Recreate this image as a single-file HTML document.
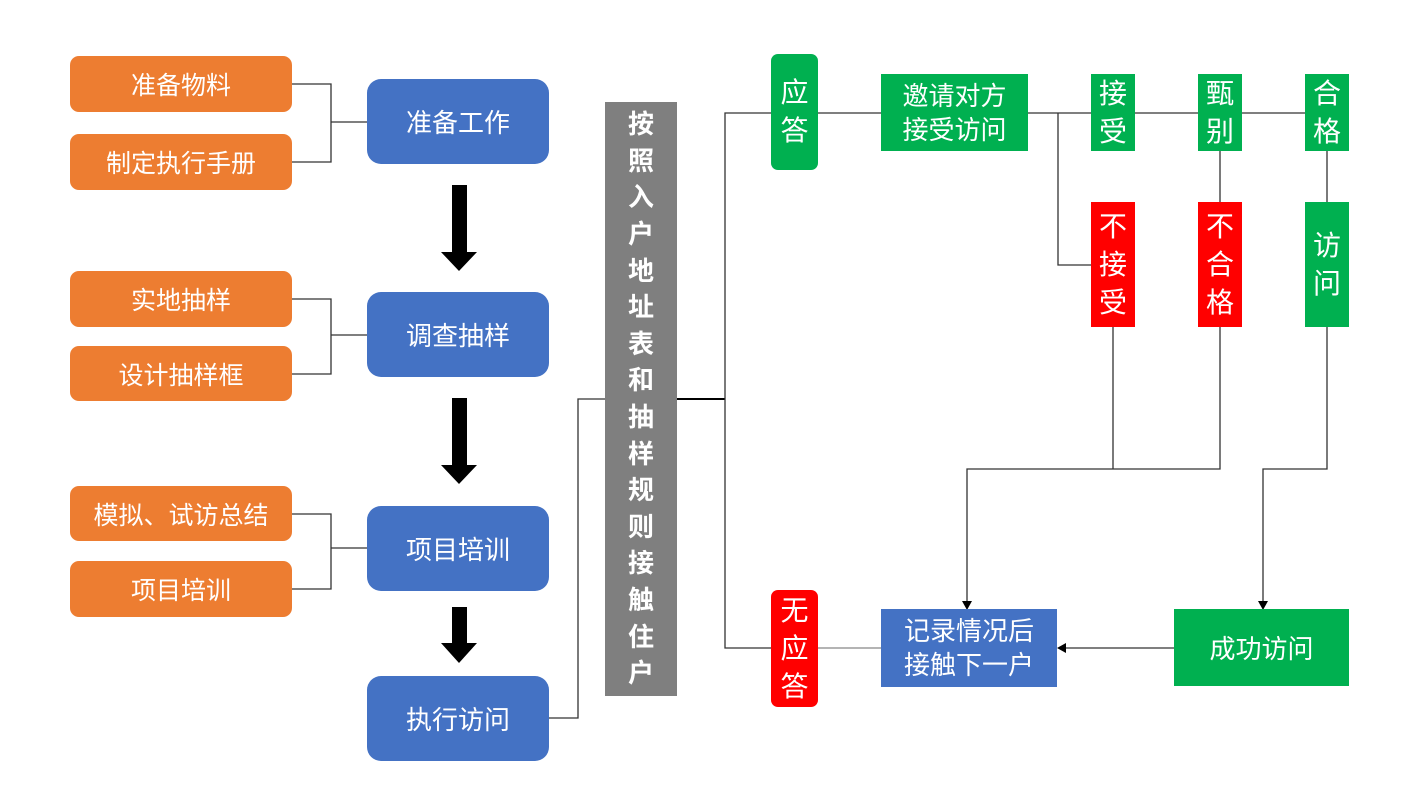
<!DOCTYPE html>
<html><head><meta charset="utf-8"><style>
body{margin:0;width:1420px;height:798px;background:#fff;position:relative;overflow:hidden;font-family:"Liberation Sans","Noto Sans CJK SC",sans-serif}
.b{position:absolute;display:flex;align-items:center;justify-content:center;color:#fff;text-align:center;box-sizing:border-box}
.o{background:#ed7d31;border-radius:9px;font-size:25px;left:70px;width:222px}
.bl{background:#4472c4;border-radius:14px;font-size:26px;left:367px;width:182px;height:85px}
.g{background:#00b050}
.r{background:#ff0000}
.v{font-size:28px;line-height:38px}
svg{position:absolute;left:0;top:0}
</style></head><body>
<svg width="1420" height="798">
<g stroke="#333" stroke-width="1.3" fill="none">
<polyline points="292,84 331,84 331,162 292,162"/><line x1="331" y1="122" x2="367" y2="122"/>
<polyline points="292,299 331,299 331,374 292,374"/><line x1="331" y1="335" x2="367" y2="335"/>
<polyline points="292,514 331,514 331,589 292,589"/><line x1="331" y1="548" x2="367" y2="548"/>
<polyline points="549,718 578,718 578,399 606,399"/>
<line x1="677" y1="399" x2="725" y2="399" stroke="#000" stroke-width="2"/>
<polyline points="771,113 725,113 725,648 771,648"/>
<line x1="818" y1="113" x2="881" y2="113"/>
<line x1="1028" y1="113" x2="1091" y2="113"/>
<line x1="1135" y1="113" x2="1305" y2="113"/>
<polyline points="1058,113 1058,265 1091,265"/>
<line x1="1220" y1="151" x2="1220" y2="202"/>
<line x1="1327" y1="151" x2="1327" y2="202"/>
<line x1="1113" y1="327" x2="1113" y2="469"/>
<polyline points="1220,327 1220,469 967,469 967,603"/>
<polyline points="1327,327 1327,469 1263,469 1263,603"/>
<line x1="818" y1="648" x2="881" y2="648" stroke="#888"/>
<line x1="1174" y1="648" x2="1064" y2="648"/>
</g>
<g fill="#000">
<polygon points="962,601 972,601 967,610"/><polygon points="1258,601 1268,601 1263,610"/>
<polygon points="1066,643 1066,653 1057,648"/>
<polygon points="452,185 467,185 467,252 477,252 459,271 441,252 452,252"/>
<polygon points="452,398 467,398 467,465 477,465 459,484 441,465 452,465"/>
<polygon points="452,607 467,607 467,643 477,643 459,663 441,643 452,643"/>
</g>
</svg>
<div class="b o" style="top:56px;height:56px">准备物料</div>
<div class="b o" style="top:134px;height:56px">制定执行手册</div>
<div class="b o" style="top:271px;height:56px">实地抽样</div>
<div class="b o" style="top:346px;height:55px">设计抽样框</div>
<div class="b o" style="top:486px;height:55px">模拟、试访总结</div>
<div class="b o" style="top:561px;height:56px">项目培训</div>
<div class="b bl" style="top:79px">准备工作</div>
<div class="b bl" style="top:292px">调查抽样</div>
<div class="b bl" style="top:506px">项目培训</div>
<div class="b bl" style="top:676px">执行访问</div>
<div class="b" style="left:605px;top:102px;width:72px;height:594px;background:#7f7f7f;font-size:26px;font-weight:bold;line-height:36.6px">按<br>照<br>入<br>户<br>地<br>址<br>表<br>和<br>抽<br>样<br>规<br>则<br>接<br>触<br>住<br>户</div>
<div class="b g v" style="left:771px;top:54px;width:47px;height:116px;border-radius:7px">应<br>答</div>
<div class="b g" style="left:881px;top:74px;width:147px;height:77px;font-size:26px;line-height:34px">邀请对方<br>接受访问</div>
<div class="b g v" style="left:1091px;top:74px;width:44px;height:77px">接<br>受</div>
<div class="b g v" style="left:1198px;top:74px;width:44px;height:77px">甄<br>别</div>
<div class="b g v" style="left:1305px;top:74px;width:44px;height:77px">合<br>格</div>
<div class="b r v" style="left:1091px;top:202px;width:44px;height:125px">不<br>接<br>受</div>
<div class="b r v" style="left:1198px;top:202px;width:44px;height:125px">不<br>合<br>格</div>
<div class="b g v" style="left:1305px;top:202px;width:44px;height:125px">访<br>问</div>
<div class="b r v" style="left:771px;top:590px;width:47px;height:117px;border-radius:7px">无<br>应<br>答</div>
<div class="b" style="left:881px;top:609px;width:176px;height:78px;background:#4472c4;font-size:26px;line-height:34px">记录情况后<br>接触下一户</div>
<div class="b g" style="left:1174px;top:609px;width:175px;height:77px;font-size:26px">成功访问</div>
</body></html>
